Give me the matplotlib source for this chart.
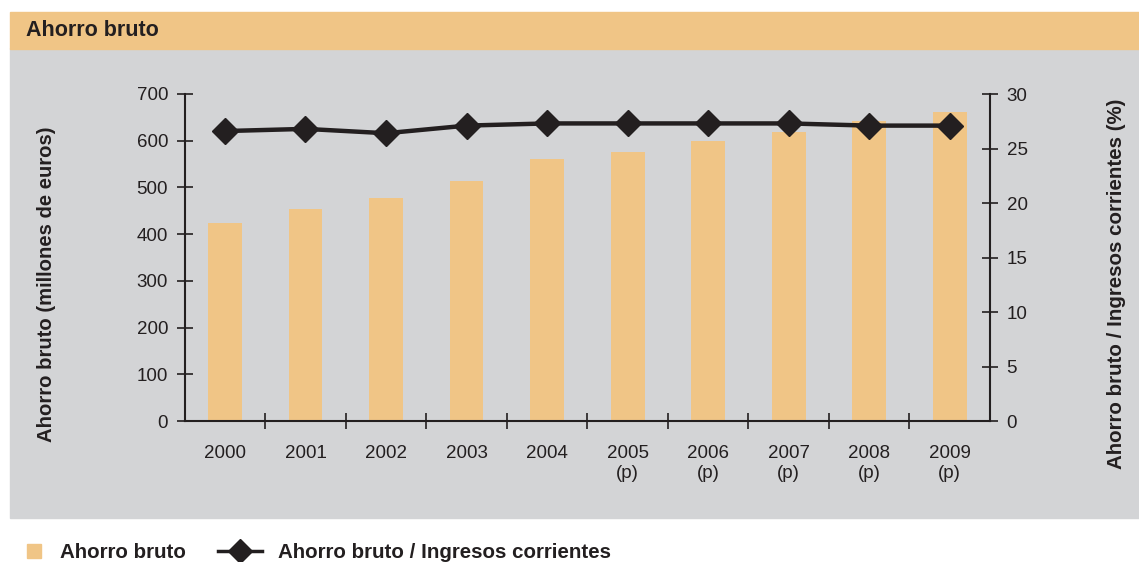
import numpy as np
import matplotlib
matplotlib.use("Agg")
import matplotlib.pyplot as plt
from matplotlib.patches import Rectangle
from matplotlib.lines import Line2D

plt.rcParams['font.family'] = ['Liberation Sans', 'DejaVu Sans']

years = ['2000', '2001', '2002', '2003', '2004',
         '2005\n(p)', '2006\n(p)', '2007\n(p)', '2008\n(p)', '2009\n(p)']
ahorro = [424, 454, 478, 513, 561, 576, 600, 619, 642, 662]
ratio = [26.6, 26.8, 26.4, 27.1, 27.3, 27.3, 27.3, 27.3, 27.1, 27.1]

ORANGE = '#f0c586'
GRAY = '#d3d4d6'
INK = '#231f20'

W, H = 1139, 562
fig = plt.figure(figsize=(W / 100, H / 100), dpi=100)

# background panels
fig.patches.append(Rectangle((10 / W, 1 - 518 / H), 1 - 10 / W, 470 / H,
                             transform=fig.transFigure, color=GRAY, zorder=-10))
fig.patches.append(Rectangle((10 / W, 1 - 49 / H), 1 - 10 / W, 37 / H,
                             transform=fig.transFigure, color=ORANGE, zorder=-10))
fig.text(26 / W, 1 - 31 / H, 'Ahorro bruto', fontsize=15.5, fontweight='bold',
         color=INK, va='center', ha='left')

ax = fig.add_axes([184.7 / W, 1 - 421 / H, (990 - 184.7) / W, (421 - 94) / H])
ax.set_facecolor('none')
x = np.arange(len(years))
ax.bar(x, ahorro, width=0.42, color=ORANGE, zorder=2)
ax.set_xlim(-0.5, 9.5)
ax.set_ylim(0, 700)
ax.set_yticks(range(0, 701, 100))
ax.set_xticks(x)
ax.set_xticklabels(years, fontsize=13.5, color=INK, linespacing=1.25)
ax.set_xticks(np.arange(0.5, 9.5, 1), minor=True)
ax.tick_params(axis='x', which='major', length=0, pad=17)
ax.tick_params(axis='x', which='minor', direction='inout', length=12,
               width=1.2, color=INK)
ax.tick_params(axis='y', direction='inout', length=12, width=1.2,
               color=INK, labelsize=13.5, labelcolor=INK, pad=6)
for s in ['top', 'right']:
    ax.spines[s].set_visible(False)
for s in ['left', 'bottom']:
    ax.spines[s].set_color(INK)
    ax.spines[s].set_linewidth(1.5)
ax.set_ylabel('Ahorro bruto (millones de euros)', fontsize=14.6,
              fontweight='bold', color=INK)
ax.yaxis.set_label_coords(-0.16, 0.419)

ax2 = ax.twinx()
ax2.set_facecolor('none')
ax2.plot(x, ratio, color=INK, lw=3.2, marker='D', markersize=13, zorder=3)
ax2.set_ylim(0, 30)
ax2.set_yticks(range(0, 31, 5))
ax2.tick_params(axis='y', direction='inout', length=12, width=1.2,
                color=INK, labelsize=13.5, labelcolor=INK, pad=6)
for s in ['top', 'left', 'bottom']:
    ax2.spines[s].set_visible(False)
ax2.spines['right'].set_color(INK)
ax2.spines['right'].set_linewidth(1.5)
ax2.set_ylabel('Ahorro bruto / Ingresos corrientes (%)', fontsize=14.8,
               fontweight='bold', color=INK)
ax2.yaxis.set_label_coords(1.145, 0.419)

# legend below the panel, one entry per legend
leg1 = fig.legend([Line2D([], [], color=ORANGE, ls='none', marker='s', markersize=10)],
                  ['Ahorro bruto'], loc='center left',
                  bbox_to_anchor=(24.5 / W, 1 - 553 / H), frameon=False,
                  fontsize=14.8, handlelength=0.88, handletextpad=0.85,
                  borderpad=0, borderaxespad=0)
leg2 = fig.legend([Line2D([], [], color=INK, lw=2.5, marker='D', markersize=12)],
                  ['Ahorro bruto / Ingresos corrientes'], loc='center left',
                  bbox_to_anchor=(218 / W, 1 - 553 / H), frameon=False,
                  fontsize=14.8, handlelength=2.15, handletextpad=0.78,
                  borderpad=0, borderaxespad=0)
for leg in (leg1, leg2):
    for t in leg.get_texts():
        t.set_fontweight('bold')
        t.set_color(INK)

fig.savefig('out.png', dpi=100)
